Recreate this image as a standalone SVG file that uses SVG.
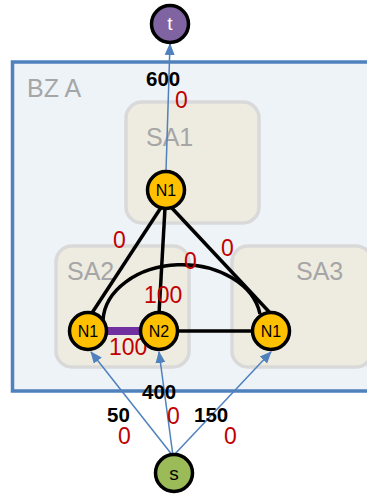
<svg xmlns="http://www.w3.org/2000/svg" width="367" height="494" viewBox="0 0 367 494">
<defs>
<style>
.sa{fill:#eeece1;stroke:#d9d9d9;stroke-width:3.5}
.gl{font-family:"Liberation Sans",Arial,sans-serif;font-size:25px;fill:#a6a6a6}
.node{fill:#ffc000;stroke:#000;stroke-width:3.5}
.nl{font-family:"Liberation Sans",Arial,sans-serif;font-size:16px;fill:#000;text-anchor:middle}
.blk{stroke:#000;stroke-width:3.5;fill:none}
.arr{stroke:#4f81bd;stroke-width:1.5;fill:none;marker-end:url(#ah)}
.red{font-family:"Liberation Sans",Arial,sans-serif;font-size:23px;fill:#c00000}
.cap{font-family:"Liberation Sans",Arial,sans-serif;font-size:20.5px;font-weight:bold;fill:#000}
</style>
<marker id="ah" markerUnits="userSpaceOnUse" markerWidth="12" markerHeight="12" viewBox="0 0 12 12" refX="11" refY="6" orient="auto">
<path d="M0,1 L12,6 L0,11 Z" fill="#4f81bd"/>
</marker>
</defs>
<g id="bz-a">
<rect x="12.5" y="62" width="370" height="329" fill="#eef3f8" stroke="#4f81bd" stroke-width="3.5"/>
<text class="gl" x="27" y="97">BZ A</text>
</g>
<g id="sa1">
<rect class="sa" x="126" y="102" width="133" height="121" rx="16"/>
<text class="gl" x="146" y="146">SA1</text>
</g>
<g id="sa2">
<rect class="sa" x="56" y="246" width="133" height="121" rx="16"/>
<text class="gl" x="67" y="280">SA2</text>
</g>
<g id="sa3">
<rect class="sa" x="232" y="246" width="140" height="121" rx="16"/>
<text class="gl" x="296" y="280">SA3</text>
</g>
<g id="connectors">
<line class="blk" x1="162" y1="206" x2="90" y2="316"/>
<line class="blk" x1="165" y1="208" x2="159" y2="314"/>
<line class="blk" x1="170" y1="206" x2="273" y2="316"/>
<line class="blk" x1="176" y1="331" x2="252" y2="331"/>
<path class="blk" d="M103,320 A79,58 0 0 1 260,314"/>
<line x1="105" y1="331" x2="140" y2="331" stroke="#7030a0" stroke-width="8"/>
<line class="arr" x1="166" y1="171" x2="170" y2="44"/>
<line class="arr" x1="173" y1="456" x2="91" y2="352"/>
<line class="arr" x1="173" y1="456" x2="159" y2="352"/>
<line class="arr" x1="173" y1="456" x2="271" y2="352"/>
<text class="cap" x="146" y="86">600</text>
<text class="red" x="175" y="108">0</text>
<text class="red" x="113" y="248">0</text>
<text class="red" x="221" y="256">0</text>
<text class="red" x="184" y="269">0</text>
<text class="red" x="144" y="303">100</text>
<text class="red" x="109" y="355">100</text>
<text class="cap" x="142" y="399">400</text>
<text class="cap" x="107" y="422">50</text>
<text class="cap" x="194" y="422">150</text>
<text class="red" x="118" y="444">0</text>
<text class="red" x="167" y="424">0</text>
<text class="red" x="224" y="444">0</text>
</g>
<g id="t">
<circle cx="170" cy="24" r="18.5" fill="#8064a2" stroke="#000" stroke-width="3.5"/>
<text class="nl" x="170" y="30" style="font-size:19px;fill:#fff">t</text>
</g>
<g id="sa1-n1">
<circle class="node" cx="166" cy="190" r="18.5"/>
<text class="nl" x="166" y="196">N1</text>
</g>
<g id="sa2-n1">
<circle class="node" cx="88" cy="331" r="18.5"/>
<text class="nl" x="88" y="337">N1</text>
</g>
<g id="sa2-n2">
<circle class="node" cx="159" cy="331" r="18.5"/>
<text class="nl" x="159" y="337">N2</text>
</g>
<g id="sa3-n1">
<circle class="node" cx="271" cy="331" r="18.5"/>
<text class="nl" x="271" y="337">N1</text>
</g>
<g id="s">
<circle cx="174" cy="473" r="18.5" fill="#9bbb59" stroke="#000" stroke-width="3.5"/>
<text class="nl" x="174" y="480" style="font-size:19px">s</text>
</g>
</svg>
